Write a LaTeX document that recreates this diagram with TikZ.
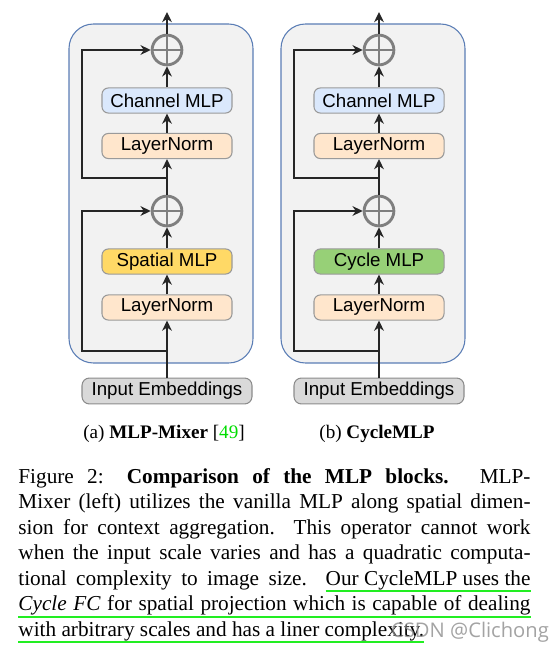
\documentclass[tikz,border=0pt]{standalone}
\usepackage{fontspec}
\setmainfont{Liberation Serif}
\setsansfont{Liberation Sans}
\newfontfamily\wmfont{Open Sans}
\usepackage{xcolor}
\usetikzlibrary{arrows.meta, positioning}

\definecolor{panelfill}{HTML}{F2F2F2}
\definecolor{panelline}{HTML}{5A7DB5}
\definecolor{channelfill}{HTML}{DAE8FC}
\definecolor{normfill}{HTML}{FFE6CC}
\definecolor{spatialfill}{HTML}{FFD966}
\definecolor{cyclefill}{HTML}{97D077}
\definecolor{inputfill}{HTML}{D9D9D9}
\definecolor{boxline}{HTML}{9A9A9A}
\definecolor{plusgray}{HTML}{7F7F7F}
\definecolor{flowline}{HTML}{262626}
\definecolor{ulgreen}{HTML}{22EE22}
\definecolor{citegreen}{HTML}{00DD00}

% green underline under a box of given width / of its natural width
\newsavebox\ulsave
\newcommand\ulto[2]{\hbox to #1{\rlap{\textcolor{ulgreen}{\rule[-3.2pt]{#1}{0.9pt}}}#2}}
\newcommand\ulnat[1]{\sbox\ulsave{#1}\ulto{\wd\ulsave}{#1}}
\newcommand\capline[1]{\hbox to \hsize{#1}}

\begin{document}
\begin{tikzpicture}[
    x=0.4706pt, y=-0.4706pt,
    font=\sffamily,
    >={Stealth[length=4.8pt,width=4.6pt]},
    % Styles
    panel/.style={
      draw=panelline,
      fill=panelfill,
      line width=0.5pt,
      rounded corners=11.5pt
    },
    block/.style={
      draw=boxline,
      line width=0.5pt,
      rounded corners=3pt,
      minimum width=61.2pt,
      minimum height=11.8pt,
      inner sep=0pt,
      font=\sffamily\fontsize{8.8}{10}\selectfont
    },
    inputblock/.style={
      block,
      fill=inputfill,
      draw=black!45,
      minimum width=80pt,
      minimum height=12.2pt,
      rounded corners=3.5pt
    },
    addnode/.style={
      circle,
      draw=plusgray,
      line width=1.35pt,
      minimum size=14pt,
      inner sep=0pt,
      path picture={
        \draw [plusgray, line width=1.35pt]
          (path picture bounding box.north) -- (path picture bounding box.south)
          (path picture bounding box.west) -- (path picture bounding box.east);
      }
    },
    arrow/.style={
      ->,
      line width=1.15pt,
      draw=flowline
    },
    subcap/.style={
      font=\rmfamily\fontsize{9}{11}\selectfont,
      anchor=base,
      inner sep=0pt
    }
  ]

    \useasboundingbox (0,0) rectangle (553,653);

    % Panels drawn first so they are in the background
    \draw [panel] (69,24) rectangle (253,363);
    \draw [panel] (281,24) rectangle (465,363);

    % MLP-Mixer block
    \node (plusA1) [addnode] at (167,50) {};
    \node (chanA) [block, fill=channelfill] at (167,100.5) {Channel MLP};
    \node (lnA2) [block, fill=normfill] at (167,146) {LayerNorm};
    \node (plusA2) [addnode] at (167,211) {};
    \node (spatA) [block, fill=spatialfill] at (167,261.5) {Spatial MLP};
    \node (lnA1) [block, fill=normfill] at (167,307.5) {LayerNorm};
    \node (inA) [inputblock] at (167,391) {Input Embeddings};
    \coordinate (outA) at (167,12);
    \coordinate (splitA0) at (167,351);
    \coordinate (splitA1) at (167,178);

    % CycleMLP block
    \node (plusB1) [addnode] at (379,50) {};
    \node (chanB) [block, fill=channelfill] at (379,100.5) {Channel MLP};
    \node (lnB2) [block, fill=normfill] at (379,146) {LayerNorm};
    \node (plusB2) [addnode] at (379,211) {};
    \node (cycB) [block, fill=cyclefill] at (379,261.5) {Cycle MLP};
    \node (lnB1) [block, fill=normfill] at (379,307.5) {LayerNorm};
    \node (inB) [inputblock] at (379,391) {Input Embeddings};
    \coordinate (outB) at (379,12);
    \coordinate (splitB0) at (379,351);
    \coordinate (splitB1) at (379,178);

    % Connections (a)
    \draw [arrow] (inA) -- (lnA1);
    \draw [arrow] (lnA1) -- (spatA);
    \draw [arrow] (spatA) -- (plusA2);
    \draw [arrow] (plusA2) -- (lnA2);
    \draw [arrow] (lnA2) -- (chanA);
    \draw [arrow] (chanA) -- (plusA1);
    \draw [arrow] (plusA1) -- (outA);
    \draw [arrow] (splitA0) -- ++(-85,0) |- (plusA2.west);
    \draw [arrow] (splitA1) -- ++(-85,0) |- (plusA1.west);

    % Connections (b)
    \draw [arrow] (inB) -- (lnB1);
    \draw [arrow] (lnB1) -- (cycB);
    \draw [arrow] (cycB) -- (plusB2);
    \draw [arrow] (plusB2) -- (lnB2);
    \draw [arrow] (lnB2) -- (chanB);
    \draw [arrow] (chanB) -- (plusB1);
    \draw [arrow] (plusB1) -- (outB);
    \draw [arrow] (splitB0) -- ++(-85,0) |- (plusB2.west);
    \draw [arrow] (splitB1) -- ++(-85,0) |- (plusB1.west);

    % Sub-captions
    \node (capA) [subcap] at (164,438) {(a) \textbf{MLP-Mixer} [\textcolor{citegreen}{49}]};
    \node (capB) [subcap] at (377,438) {(b) \textbf{CycleMLP}};

    % Figure caption, one box per printed line
    \node (caption) [anchor=north west, inner sep=0pt, font=\rmfamily\fontsize{10}{12}\selectfont]
      at (18,468) {\vbox{\hsize=241pt \baselineskip=12pt
      \capline{Figure 2: \textbf{Comparison of the MLP blocks.} MLP-}
      \capline{Mixer (left) utilizes the vanilla MLP along spatial dimen-}
      \capline{sion for context aggregation.\ \ This operator cannot work}
      \capline{when the input scale varies and has a quadratic computa-}
      \capline{tional complexity to image size.\ \ \ulnat{Our CycleMLP uses the}}
      \ulto{\hsize}{\itshape Cycle FC\/ \upshape for spatial projection which is capable of dealing}
      \hbox{\ulnat{with arbitrary scales and has a liner complexity.}}}};

    % Watermark
    \node (mark) [font=\wmfont\fontsize{9.5}{11}\selectfont, text=black!45, opacity=0.8] at (470,632) {CSDN @Clichong};

\end{tikzpicture}
\end{document}
